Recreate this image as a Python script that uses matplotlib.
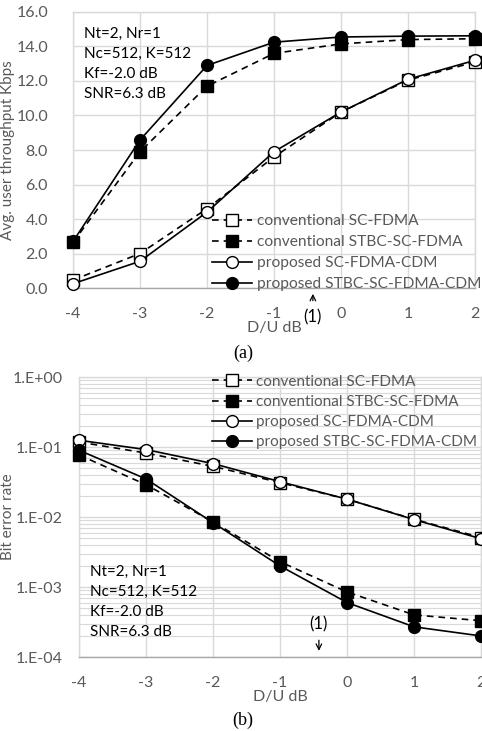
import matplotlib
matplotlib.use('Agg')
import matplotlib.pyplot as plt
import numpy as np

plt.rcParams['font.family'] = ['Lato', 'DejaVu Sans']
plt.rcParams['axes.unicode_minus'] = False

du = [-4, -3, -2, -1, 0, 1, 2]
labels = ['conventional SC-FDMA', 'conventional STBC-SC-FDMA',
          'proposed SC-FDMA-CDM', 'proposed STBC-SC-FDMA-CDM']

# (a) throughput, Kbps
thr_conv = [0.46, 2.0, 4.6, 7.6, 10.2, 12.05, 13.1]
thr_conv_stbc = [2.65, 7.9, 11.7, 13.6, 14.15, 14.4, 14.45]
thr_prop = [0.25, 1.55, 4.4, 7.9, 10.2, 12.1, 13.2]
thr_prop_stbc = [2.7, 8.58, 12.9, 14.25, 14.55, 14.6, 14.62]

# (b) bit error rate
ber_conv = [0.118, 0.082, 0.053, 0.031, 0.018, 0.0093, 0.0051]
ber_conv_stbc = [0.077, 0.029, 0.0085, 0.0023, 0.00085, 0.0004, 0.00033]
ber_prop = [0.125, 0.092, 0.058, 0.032, 0.018, 0.0092, 0.0049]
ber_prop_stbc = [0.09, 0.035, 0.0083, 0.002, 0.0006, 0.00027, 0.0002]

params = ['Nt=2, Nr=1', 'Nc=512, K=512', 'Kf=-2.0 dB', 'SNR=6.3 dB']

styles = [
    dict(ls=(0, (4, 3)), marker='s', mfc='white'),
    dict(ls=(0, (4, 3)), marker='s', mfc='black'),
    dict(ls='-', marker='o', mfc='white'),
    dict(ls='-', marker='o', mfc='black'),
]
grid_c = '#d9d9d9'
tick_c = '#595959'

fig = plt.figure(figsize=(4.82, 7.31), dpi=100)
ax1 = fig.add_axes([0.1515, 0.606, 0.834, 0.3776])
ax2 = fig.add_axes([0.164, 0.1012, 0.834, 0.383])


def style_axes(ax):
    for s in ax.spines.values():
        s.set_color(grid_c)
        s.set_linewidth(1.0)
    ax.spines['bottom'].set_color('#a6a6a6')
    ax.tick_params(length=0, colors=tick_c, labelsize=11.5)
    ax.tick_params(axis='x', pad=14)
    ax.grid(True, which='major', color=grid_c, lw=1.0)
    ax.set_axisbelow(True)
    ax.set_xlim(-4, 2)
    ax.set_xticks(du)
    ax.set_xlabel('D/U dB', color=tick_c, fontsize=11.5, labelpad=0)


for series, st, lab in zip([thr_conv, thr_conv_stbc, thr_prop, thr_prop_stbc], styles, labels):
    ax1.plot(du, series, color='black', lw=1.2, ms=8.5, mec='black', mew=1.0,
             label=lab, clip_on=False, zorder=3, **st)
style_axes(ax1)
ax1.set_ylim(0, 16)
ax1.set_yticks(np.arange(0, 17, 2))
ax1.set_yticklabels([f'{v:.1f}' for v in np.arange(0, 17, 2)])
ax1.tick_params(axis='y', pad=18)
ax1.set_ylabel('Avg. user throughput Kbps', color=tick_c, fontsize=11)
ax1.yaxis.set_label_coords(-0.144, 0.5)
ax1.legend(loc='lower left', bbox_to_anchor=(0.33, -0.035), frameon=False,
           fontsize=11.2, handlelength=2.6, handletextpad=0.3, labelspacing=0.45,
           labelcolor=tick_c, borderaxespad=0)
ax1.text(0.027, 0.945, '\n'.join(params), transform=ax1.transAxes, fontsize=11,
         va='top', ha='left', linespacing=1.55)
ax1.annotate('', xy=(-0.42, -0.011), xytext=(-0.42, -0.056),
             xycoords=('data', 'axes fraction'), textcoords=('data', 'axes fraction'),
             arrowprops=dict(arrowstyle='->', color='black', lw=0.9))
ax1.text(-0.42, -0.105, '(1)', transform=ax1.get_xaxis_transform(),
         ha='center', va='center', fontsize=12)

for series, st, lab in zip([ber_conv, ber_conv_stbc, ber_prop, ber_prop_stbc], styles, labels):
    ax2.plot(du, series, color='black', lw=1.2, ms=8.5, mec='black', mew=1.0,
             label=lab, clip_on=False, zorder=3, **st)
style_axes(ax2)
ax2.set_yscale('log')
ax2.set_ylim(1e-4, 1)
ax2.set_yticks([1e-4, 1e-3, 1e-2, 1e-1, 1])
ax2.set_yticklabels(['1.E-04', '1.E-03', '1.E-02', '1.E-01', '1.E+00'])
ax2.yaxis.set_minor_locator(matplotlib.ticker.LogLocator(base=10, subs=np.arange(2, 10)))
ax2.yaxis.set_minor_formatter(matplotlib.ticker.NullFormatter())
ax2.tick_params(axis='y', which='both', length=0, pad=12)
ax2.grid(True, which='minor', axis='y', color=grid_c, lw=0.8)
ax2.set_ylabel('Bit error rate', color=tick_c, fontsize=11)
ax2.yaxis.set_label_coords(-0.159, 0.5)
ax2.legend(loc='upper left', bbox_to_anchor=(0.315, 1.03), frameon=False,
           fontsize=11, handlelength=2.6, handletextpad=0.3, labelspacing=0.4,
           labelcolor=tick_c, borderaxespad=0)
ax2.text(0.027, 0.33, '\n'.join(params), transform=ax2.transAxes, fontsize=11,
         va='top', ha='left', linespacing=1.55)
ax2.annotate('', xy=(-0.42, 0.012), xytext=(-0.42, 0.07),
             xycoords=('data', 'axes fraction'), textcoords=('data', 'axes fraction'),
             arrowprops=dict(arrowstyle='->', color='black', lw=0.9))
ax2.text(-0.42, 0.115, '(1)', transform=ax2.get_xaxis_transform(),
         ha='center', va='center', fontsize=12)

fig.text(243 / 482, 1 - 353 / 731, '(a)', family='Liberation Serif', fontsize=13,
         ha='center', va='center')
fig.text(243 / 482, 1 - 720 / 731, '(b)', family='Liberation Serif', fontsize=13,
         ha='center', va='center')

fig.savefig('out.png', dpi=100)
